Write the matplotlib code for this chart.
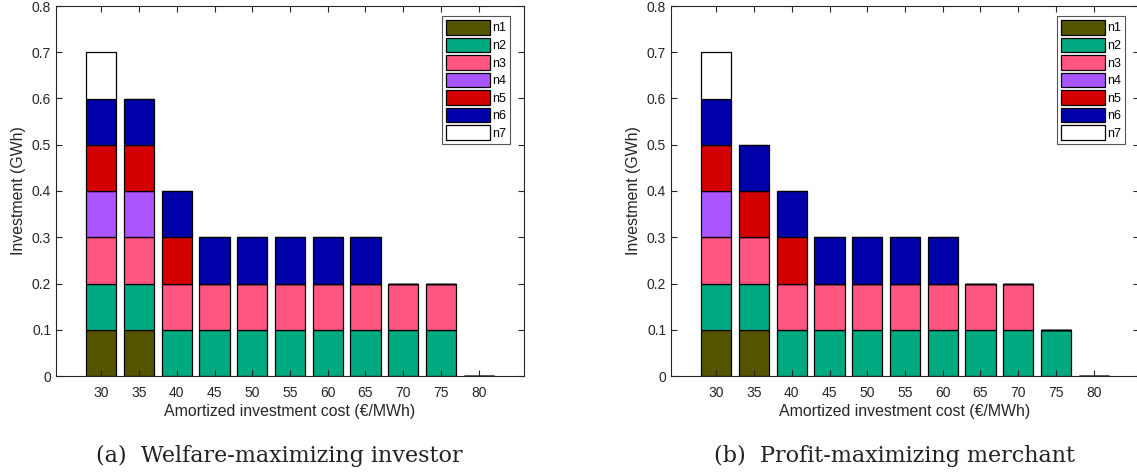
import matplotlib
matplotlib.use("Agg")
import matplotlib.pyplot as plt
import numpy as np

plt.rcParams['font.family'] = ['Liberation Sans', 'DejaVu Sans']

costs = [30, 35, 40, 45, 50, 55, 60, 65, 70, 75, 80]
nodes = ['n1', 'n2', 'n3', 'n4', 'n5', 'n6', 'n7']
colors = ['#555500', '#00aa80', '#ff5580', '#aa55ff', '#d40000', '#0000aa', '#ffffff']

# (a) welfare-maximizing investor, GWh per node
welfare = {
    'n1': [0.1, 0.1, 0, 0, 0, 0, 0, 0, 0, 0, 0],
    'n2': [0.1, 0.1, 0.1, 0.1, 0.1, 0.1, 0.1, 0.1, 0.1, 0.1, 0],
    'n3': [0.1, 0.1, 0.1, 0.1, 0.1, 0.1, 0.1, 0.1, 0.1, 0.1, 0],
    'n4': [0.1, 0.1, 0, 0, 0, 0, 0, 0, 0, 0, 0],
    'n5': [0.1, 0.1, 0.1, 0, 0, 0, 0, 0, 0, 0, 0],
    'n6': [0.1, 0.1, 0.1, 0.1, 0.1, 0.1, 0.1, 0.1, 0, 0, 0],
    'n7': [0.1, 0, 0, 0, 0, 0, 0, 0, 0, 0, 0],
}

# (b) profit-maximizing merchant
merchant = {
    'n1': [0.1, 0.1, 0, 0, 0, 0, 0, 0, 0, 0, 0],
    'n2': [0.1, 0.1, 0.1, 0.1, 0.1, 0.1, 0.1, 0.1, 0.1, 0.1, 0],
    'n3': [0.1, 0.1, 0.1, 0.1, 0.1, 0.1, 0.1, 0.1, 0.1, 0, 0],
    'n4': [0.1, 0, 0, 0, 0, 0, 0, 0, 0, 0, 0],
    'n5': [0.1, 0.1, 0.1, 0, 0, 0, 0, 0, 0, 0, 0],
    'n6': [0.1, 0.1, 0.1, 0.1, 0.1, 0.1, 0.1, 0, 0, 0, 0],
    'n7': [0.1, 0, 0, 0, 0, 0, 0, 0, 0, 0, 0],
}

captions = ['(a)  Welfare-maximizing investor', '(b)  Profit-maximizing merchant']

W, H = 1137, 476
fig = plt.figure(figsize=(W / 100, H / 100), dpi=100)
dark = '#262626'


def draw(ax, data):
    bottom = np.zeros(len(costs))
    for name, col in zip(nodes, colors):
        vals = np.array(data[name])
        ax.bar(costs, vals, width=4, bottom=bottom, color=col,
               edgecolor='black', linewidth=0.9, label=name)
        bottom += vals
    ax.set_xlim(24, 86)
    ax.set_ylim(0, 0.8)
    ax.set_xticks(costs)
    ax.set_yticks(np.arange(0, 0.81, 0.1))
    ax.set_yticklabels(['%g' % round(v, 1) for v in np.arange(0, 0.81, 0.1)])
    ax.tick_params(direction='in', top=True, right=True, length=4,
                   labelsize=10, colors=dark, width=0.8)
    ax.tick_params(axis='x', pad=7)
    for s in ax.spines.values():
        s.set_color(dark)
        s.set_linewidth(0.8)
    ax.set_xlabel('Amortized investment cost (€/MWh)', fontsize=11.4, color=dark, labelpad=3)
    ax.set_ylabel('Investment (GWh)', fontsize=11.4, color=dark, labelpad=4)
    leg = ax.legend(loc='upper left', bbox_to_anchor=(0.825, 0.972), fontsize=9,
                    handlelength=3.5, handleheight=1.4, labelspacing=0.25,
                    handletextpad=0.2, borderpad=0.3, borderaxespad=0,
                    fancybox=False, framealpha=1)
    leg.get_frame().set_edgecolor('#555555')
    leg.get_frame().set_linewidth(0.8)


lefts = [56, 671]
for i, data in enumerate([welfare, merchant]):
    ax = fig.add_axes([lefts[i] / W, 100 / H, 468 / W, 370 / H])
    draw(ax, data)
    fig.text((lefts[i] + 223) / W, 1 - 456 / H, captions[i], ha='center', va='center',
             fontsize=16, family='DejaVu Serif', color='#222222')

fig.savefig('out.png', dpi=100)
